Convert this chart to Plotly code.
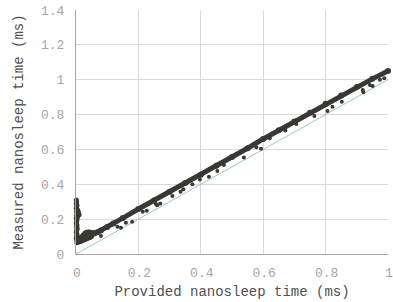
import plotly.graph_objects as go

# Main band of measured points (provided ms -> measured ms)
band_x = [0.004, 0.008, 0.012, 0.016, 0.02, 0.025, 0.03, 0.035, 0.04, 0.045, 0.05, 0.055, 0.06,
          0.07, 0.08, 0.10, 0.12, 0.15, 0.20, 0.25, 0.30, 0.35, 0.40, 0.45, 0.50, 0.55,
          0.60, 0.65, 0.70, 0.75, 0.80, 0.85, 0.90, 0.95, 1.00]
band_y = [0.082, 0.085, 0.088, 0.092, 0.098, 0.108, 0.118, 0.122, 0.124, 0.122, 0.118, 0.117, 0.119,
          0.126, 0.135, 0.155, 0.175, 0.206, 0.258, 0.307, 0.357, 0.407, 0.455, 0.506, 0.556, 0.607,
          0.660, 0.710, 0.760, 0.811, 0.862, 0.910, 0.958, 1.005, 1.050]

# Lower edge of the band near zero
low_x = [0.003, 0.006, 0.010, 0.014, 0.018, 0.022, 0.026, 0.030, 0.035, 0.040, 0.045, 0.050]
low_y = [0.065, 0.068, 0.070, 0.072, 0.075, 0.078, 0.082, 0.085, 0.088, 0.092, 0.095, 0.100]

# Vertical spike of points at ~0 ms
spike_x = [0.001, 0.002, 0.001, 0.003, 0.002, 0.001, 0.004, 0.006, 0.002, 0.008, 0.003, 0.010,
           0.002, 0.005, 0.001, 0.003, 0.002, 0.001, 0.003, 0.002, 0.004, 0.002, 0.001, 0.003,
           0.002, 0.001]
spike_y = [0.310, 0.300, 0.290, 0.280, 0.270, 0.262, 0.255, 0.248, 0.245, 0.238, 0.232, 0.225,
           0.220, 0.212, 0.205, 0.195, 0.185, 0.175, 0.165, 0.155, 0.145, 0.135, 0.125, 0.115,
           0.100, 0.090]

# Scattered outliers below the band
out_x = [0.080, 0.133, 0.144, 0.160, 0.180, 0.214, 0.227, 0.256, 0.260, 0.270, 0.309, 0.335,
         0.344, 0.373, 0.397, 0.426, 0.453, 0.474, 0.538, 0.578, 0.593, 0.621, 0.671, 0.706,
         0.764, 0.806, 0.822, 0.852, 0.919, 0.921, 0.942, 0.951, 0.974, 0.988]
out_y = [0.103, 0.157, 0.151, 0.180, 0.185, 0.243, 0.248, 0.287, 0.280, 0.290, 0.333, 0.357,
         0.371, 0.400, 0.428, 0.443, 0.476, 0.510, 0.553, 0.612, 0.604, 0.664, 0.708, 0.746,
         0.792, 0.820, 0.845, 0.874, 0.941, 0.928, 0.970, 0.964, 1.000, 1.008]

# Reference line y = x
ref_x = [0, 1]
ref_y = [0, 1]

x_ticks = [0, 0.2, 0.4, 0.6, 0.8, 1]
x_labels = ["0", "0.2", "0.4", "0.6", "0.8", "1"]
y_ticks = [0, 0.2, 0.4, 0.6, 0.8, 1, 1.2, 1.4]
y_labels = ["0", "0.2", "0.4", "0.6", "0.8", "1", "1.2", "1.4"]

DARK = "#393934"
FONT = "Liberation Mono, Courier New, monospace"

fig = go.Figure()
fig.add_trace(go.Scatter(x=ref_x, y=ref_y, mode="lines",
                         line=dict(color="#9fc9c0", width=1), hoverinfo="skip"))
fig.add_trace(go.Scatter(x=band_x, y=band_y, mode="lines+markers",
                         line=dict(color=DARK, width=5),
                         marker=dict(color=DARK, size=6), cliponaxis=False))
fig.add_trace(go.Scatter(x=low_x, y=low_y, mode="lines+markers",
                         line=dict(color=DARK, width=4),
                         marker=dict(color=DARK, size=5), cliponaxis=False))
fig.add_trace(go.Scatter(x=spike_x, y=spike_y, mode="markers",
                         marker=dict(color=DARK, size=5), cliponaxis=False))
fig.add_trace(go.Scatter(x=out_x, y=out_y, mode="markers",
                         marker=dict(color=DARK, size=4), cliponaxis=False))

fig.update_layout(
    width=393, height=302,
    margin=dict(l=76, r=5, t=10, b=48),
    paper_bgcolor="white", plot_bgcolor="white",
    showlegend=False,
    font=dict(family=FONT, color="#a6a6a6", size=13),
    xaxis=dict(range=[0, 1], tickvals=x_ticks, ticktext=x_labels, automargin=False,
               showgrid=True, gridcolor="#d9d9d9", gridwidth=1,
               zeroline=False, showline=True, linecolor="#a6a6a6", linewidth=1,
               ticks="", ticklabelshift=1, ticklabelstandoff=6, ticklabeloverflow="allow",
               title=dict(text="Provided nanosleep time (ms)",
                          font=dict(family=FONT, size=14, color="#505050"), standoff=6)),
    yaxis=dict(range=[0, 1.4], tickvals=y_ticks, ticktext=y_labels, automargin=False,
               showgrid=True, gridcolor="#d9d9d9", gridwidth=1,
               zeroline=False, showline=True, linecolor="#a6a6a6", linewidth=1,
               ticks="", ticklabelstandoff=8, ticklabeloverflow="allow",
               title=dict(text="Measured nanosleep time (ms)",
                          font=dict(family=FONT, size=14, color="#505050"), standoff=14)),
)

fig.write_html("out.html", config={"displayModeBar": False},
               post_script="document.body.style.margin='0';document.body.style.padding='0';")
